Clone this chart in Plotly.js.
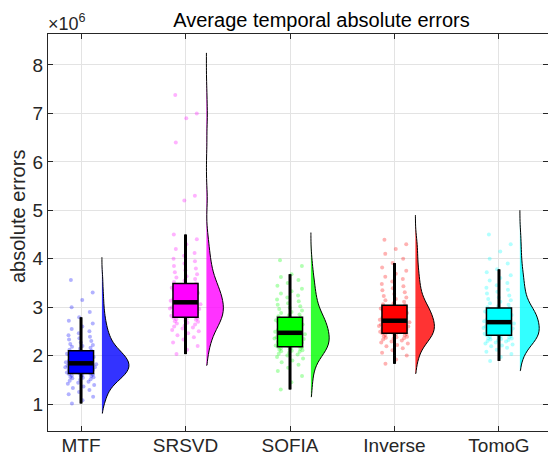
<!DOCTYPE html>
<html><head><meta charset="utf-8">
<script src="https://cdn.plot.ly/plotly-3.0.1.min.js"></script>
<style>html,body{margin:0;padding:0;background:#fff}#chart{width:548px;height:456px}</style>
</head><body><div id="chart"></div>
<script>
// ---- data (values in units of 10^6) ----
const categories = ['MTF', 'SRSVD', 'SOFIA', 'Inverse', 'TomoG'];
const colors = ['#0000ff', '#ff00ff', '#00ff00', '#ff0000', '#00ffff'];
const yTickValues = [1, 2, 3, 4, 5, 6, 7, 8];

const lowerWhisker = [1.01, 2.03, 1.30, 1.83, 1.89];
const q1Values     = [1.63, 2.79, 2.18, 2.46, 2.42];
const medianValues = [1.84, 3.10, 2.47, 2.72, 2.69];
const q3Values     = [2.10, 3.49, 2.79, 3.04, 2.98];
const upperWhisker = [2.79, 4.50, 3.68, 3.91, 3.78];
const densityLow   = [0.81, 1.80, 1.15, 1.63, 1.69];
const densityHigh  = [4.03, 8.25, 4.54, 4.90, 5.00];

const mtfErrors = [1.01,1.08,1.15,1.2,1.25,1.29,1.33,1.36,1.39,1.42,1.44,1.46,1.48,1.5,1.51,1.53,1.54,1.55,1.56,1.57,1.58,1.59,1.6,1.61,1.62,
 1.63,1.64,1.65,1.66,1.67,1.68,1.69,1.7,1.71,1.72,1.73,1.74,1.75,1.76,1.76,1.77,1.78,1.79,1.79,1.8,1.81,1.81,1.82,1.83,1.84,
 1.85,1.86,1.87,1.88,1.89,1.9,1.91,1.92,1.93,1.94,1.95,1.96,1.97,1.98,1.99,2.0,2.01,2.02,2.03,2.04,2.05,2.06,2.07,2.08,2.1,
 2.12,2.14,2.16,2.18,2.2,2.22,2.24,2.27,2.3,2.33,2.36,2.39,2.42,2.46,2.5,2.55,2.6,2.66,2.72,2.79,2.9,3.0,3.15,3.3,3.56];
const srsvdErrors = [2.03,2.12,2.2,2.27,2.33,2.38,2.42,2.46,2.5,2.53,2.56,2.58,2.6,2.62,2.64,2.66,2.68,2.7,2.71,2.72,2.74,2.75,2.76,2.77,2.78,
 2.8,2.81,2.82,2.84,2.85,2.86,2.88,2.89,2.9,2.92,2.93,2.94,2.95,2.96,2.97,2.98,2.99,3.0,3.01,3.02,3.04,3.05,3.06,3.08,3.1,
 3.11,3.13,3.14,3.16,3.17,3.19,3.2,3.22,3.23,3.25,3.26,3.28,3.29,3.31,3.32,3.34,3.35,3.37,3.38,3.4,3.41,3.43,3.45,3.47,3.49,
 3.52,3.55,3.58,3.61,3.64,3.68,3.72,3.76,3.8,3.85,3.9,3.95,4.0,4.06,4.12,4.2,4.3,4.4,4.5,5.2,5.3,6.4,6.9,7.0,7.38];
const sofiaErrors = [1.3,1.45,1.58,1.68,1.75,1.81,1.86,1.9,1.94,1.97,2.0,2.02,2.04,2.06,2.08,2.09,2.1,2.11,2.12,2.13,2.14,2.15,2.16,2.17,2.18,
 2.19,2.2,2.21,2.23,2.24,2.25,2.26,2.27,2.28,2.3,2.31,2.32,2.33,2.34,2.35,2.36,2.37,2.38,2.39,2.4,2.42,2.43,2.44,2.45,2.47,
 2.48,2.49,2.5,2.52,2.53,2.54,2.56,2.57,2.58,2.6,2.61,2.62,2.64,2.65,2.66,2.68,2.69,2.7,2.72,2.73,2.74,2.75,2.76,2.78,2.79,
 2.81,2.83,2.85,2.88,2.9,2.93,2.96,2.99,3.02,3.05,3.08,3.12,3.16,3.2,3.24,3.28,3.33,3.38,3.44,3.5,3.56,3.62,3.68,3.85,3.97];
const inverseErrors = [1.83,1.92,2.0,2.06,2.11,2.15,2.19,2.22,2.25,2.27,2.29,2.31,2.33,2.35,2.36,2.37,2.38,2.39,2.4,2.41,2.42,2.43,2.44,2.45,2.46,
 2.47,2.48,2.49,2.5,2.51,2.52,2.53,2.54,2.55,2.56,2.57,2.58,2.59,2.6,2.61,2.62,2.63,2.64,2.65,2.66,2.67,2.68,2.69,2.7,2.72,
 2.73,2.74,2.75,2.77,2.78,2.79,2.8,2.82,2.83,2.84,2.86,2.87,2.88,2.9,2.91,2.92,2.94,2.95,2.96,2.97,2.98,3.0,3.01,3.02,3.04,
 3.06,3.08,3.11,3.14,3.17,3.2,3.23,3.27,3.31,3.35,3.39,3.43,3.48,3.53,3.58,3.63,3.69,3.75,3.82,3.91,4.0,4.1,4.2,4.3,4.39];
const tomogErrors = [1.89,1.97,2.03,2.08,2.12,2.16,2.19,2.21,2.23,2.25,2.27,2.29,2.3,2.31,2.32,2.33,2.34,2.35,2.36,2.37,2.38,2.39,2.4,2.41,2.42,
 2.43,2.44,2.45,2.46,2.47,2.48,2.49,2.5,2.51,2.52,2.53,2.54,2.55,2.56,2.57,2.58,2.59,2.6,2.61,2.62,2.63,2.64,2.66,2.67,2.69,
 2.7,2.71,2.72,2.73,2.75,2.76,2.77,2.78,2.79,2.8,2.81,2.82,2.84,2.85,2.86,2.87,2.88,2.89,2.9,2.91,2.92,2.94,2.95,2.96,2.98,
 3.0,3.02,3.05,3.08,3.11,3.14,3.17,3.2,3.24,3.28,3.32,3.36,3.4,3.45,3.5,3.55,3.6,3.66,3.72,3.78,3.9,4.0,4.15,4.3,4.5];

// ---- styles ----
const samples = [mtfErrors, srsvdErrors, sofiaErrors, inverseErrors, tomogErrors];
const VIOLIN_OFFSET = 0.2;
const violinWidths = [0.517, 0.325, 0.35, 0.364, 0.37];
const BOX_HALF = 0.12;
const POINT_COLUMNS = [-0.67, 0, 0.67];   // point cloud split in 3 jittered strips
function rgba(hex, a) {
  const n = parseInt(hex.slice(1), 16);
  return 'rgba(' + ((n >> 16) & 255) + ',' + ((n >> 8) & 255) + ',' + (n & 255) + ',' + a + ')';
}

const traces = [];
categories.forEach((cat, i) => {
  traces.push({
    type: 'violin', x0: i + 1 + VIOLIN_OFFSET, y: samples[i], name: cat + ' density',
    side: 'positive', width: violinWidths[i], scalemode: 'width',
    spanmode: 'manual', span: [densityLow[i], densityHigh[i]],
    points: false, box: {visible: false}, meanline: {visible: false},
    line: {color: '#000', width: 1}, fillcolor: rgba(colors[i], 0.8),
    hoverinfo: 'skip', showlegend: false
  });
});
categories.forEach((cat, i) => {
  POINT_COLUMNS.forEach((pp, k) => {
    traces.push({
      type: 'box', x0: i + 1, y: samples[i].filter((v, j) => j % POINT_COLUMNS.length === k),
      name: cat + ' points ' + k,
      boxpoints: 'all', jitter: 0.34, pointpos: pp, width: 0.3,
      line: {width: 0, color: 'rgba(0,0,0,0)'}, fillcolor: 'rgba(0,0,0,0)',
      marker: {size: 4, color: rgba(colors[i], 0.3)},
      hoverinfo: 'skip', showlegend: false
    });
  });
});
categories.forEach((cat, i) => {
  traces.push({
    type: 'box', x: [i + 1], name: cat,
    q1: [q1Values[i]], median: [medianValues[i]], q3: [q3Values[i]],
    lowerfence: [lowerWhisker[i]], upperfence: [upperWhisker[i]],
    boxpoints: false, width: 2 * BOX_HALF, whiskerwidth: 0,
    line: {color: '#000', width: 1.5}, fillcolor: colors[i],
    hoverinfo: 'skip', showlegend: false
  });
});
categories.forEach((cat, i) => {
  const p = i + 1;
  traces.push({
    type: 'scatter', mode: 'lines', x: [p, p, null, p, p],
    y: [lowerWhisker[i], q1Values[i], null, q3Values[i], upperWhisker[i]],
    line: {color: '#000', width: 3}, hoverinfo: 'skip', showlegend: false
  });
  traces.push({
    type: 'scatter', mode: 'lines', x: [p - BOX_HALF, p + BOX_HALF],
    y: [medianValues[i], medianValues[i]],
    line: {color: '#000', width: 4.5}, hoverinfo: 'skip', showlegend: false
  });
});

const FONT = 'Liberation Sans, Arial, Helvetica, sans-serif';
const axisStyle = {
  ticks: 'inside', ticklen: 5, tickcolor: '#262626', tickwidth: 1,
  showline: true, linecolor: '#262626', linewidth: 1, mirror: 'ticks',
  showgrid: true, gridcolor: '#e3e3e3', gridwidth: 1, zeroline: false, fixedrange: true,
  tickfont: {family: FONT, size: 19, color: '#262626'}
};
const layout = {
  width: 548, height: 456,
  margin: {l: 48, r: 0, t: 34, b: 25, pad: 0},
  paper_bgcolor: '#fff', plot_bgcolor: '#fff',
  font: {family: FONT, color: '#262626'},
  showlegend: false, boxmode: 'overlay', violinmode: 'overlay',
  title: {text: 'Average temporal absolute errors', font: {family: FONT, size: 20, color: '#000'},
          xref: 'container', x: 321.5 / 548, xanchor: 'center',
          yref: 'container', y: 1 - 20 / 456, yanchor: 'middle'},
  xaxis: Object.assign({}, axisStyle, {range: [0.684, 5.469], tickvals: [1, 2, 3, 4, 5], ticktext: categories,
          ticklabelstandoff: -3}),
  yaxis: Object.assign({}, axisStyle, {range: [0.4425, 8.64], tickvals: yTickValues}),
  annotations: [
    {text: '×10<sup>6</sup>', xref: 'paper', yref: 'paper', x: 0, y: 1, xanchor: 'left', yanchor: 'bottom',
     xshift: -2, yshift: -2, showarrow: false, font: {family: FONT, size: 18, color: '#262626'}},
    {text: 'absolute errors', textangle: -90, xref: 'paper', yref: 'paper',
     x: (18 - 48) / 500, y: (431 - 217) / 397, xanchor: 'center', yanchor: 'middle',
     showarrow: false, font: {family: FONT, size: 20, color: '#262626'}}
  ]
};
Plotly.newPlot('chart', traces, layout, {displayModeBar: false, staticPlot: true});
</script>
</body></html>
